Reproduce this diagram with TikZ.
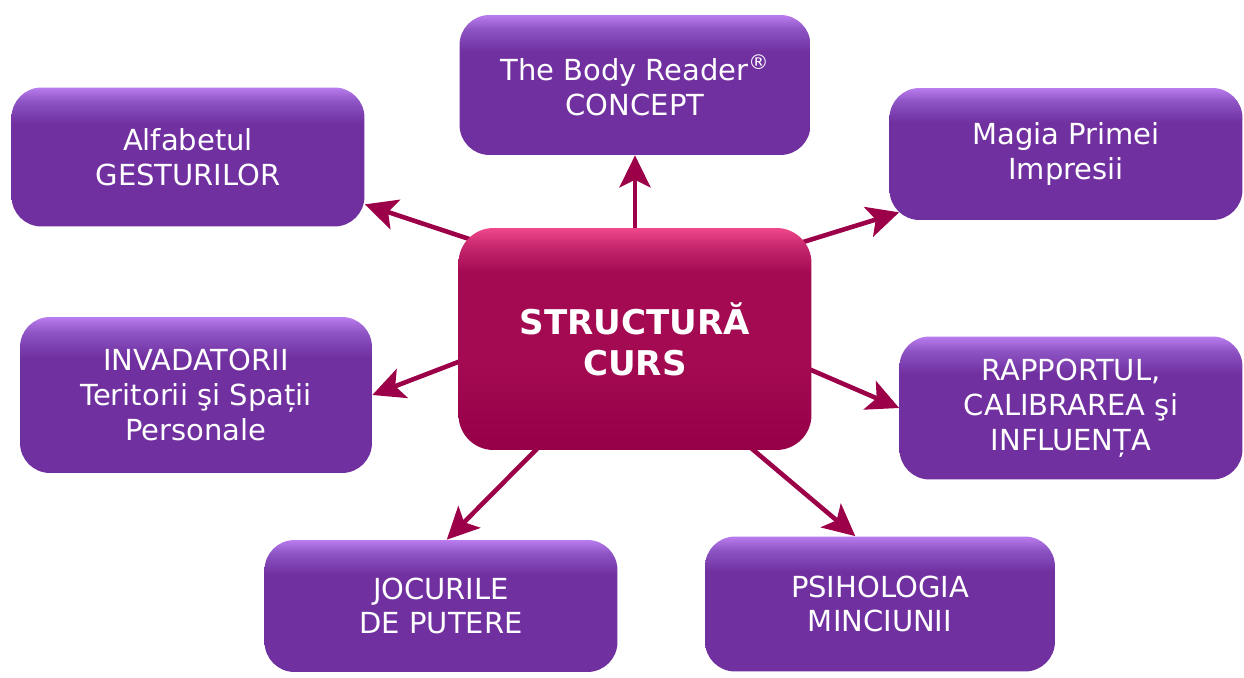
\documentclass[tikz,border=0pt]{standalone}
\usepackage{fontspec}
\setmainfont{DejaVu Sans}
\usetikzlibrary{arrows.meta,backgrounds}

\definecolor{purplebase}{RGB}{112,48,160}
\definecolor{purplemid}{RGB}{142,84,196}
\definecolor{purplelight}{RGB}{186,124,238}
\definecolor{corebase}{RGB}{150,0,72}
\definecolor{coremid}{RGB}{163,10,82}
\definecolor{coreblend}{RGB}{200,40,110}
\definecolor{corelight}{RGB}{240,72,140}
\definecolor{arrowred}{RGB}{155,0,72}

\pgfdeclareverticalshading{purpleglass}{100bp}{color(0bp)=(purplebase); color(25bp)=(purplebase); color(62bp)=(purplebase); color(70bp)=(purplemid); color(75bp)=(purplelight); color(100bp)=(purplelight)}
\pgfdeclareverticalshading{coreglass}{100bp}{color(0bp)=(corebase); color(25bp)=(corebase); color(45bp)=(coremid); color(65bp)=(coremid); color(71bp)=(coreblend); color(75bp)=(corelight); color(100bp)=(corelight)}

\begin{document}
\begin{tikzpicture}[x=0.02cm,y=-0.02cm]
        % Define styles for nodes and arrows
        \tikzstyle{topic} = [rectangle, rounded corners=0.6cm, align=center, text=white, shading=purpleglass, font=\fontsize{16.5}{19.8}\selectfont]
        \tikzstyle{core} = [rectangle, rounded corners=0.7cm, align=center, text=white, shading=coreglass, font=\bfseries\fontsize{19.4}{23.3}\selectfont]
        \tikzstyle{arrow} = [line width=2.6pt, draw=arrowred, -{Stealth[length=0.64cm, width=0.62cm, inset=0.15cm]}]

        \useasboundingbox (0,0) rectangle (1244,678);

        \node (core) [core, minimum width=7.06cm, minimum height=4.44cm] at (635,339) {STRUCTURĂ\\CURS};
        \node (body) [topic, minimum width=7.02cm, minimum height=2.8cm] at (635,85) {The Body Reader\textsuperscript{®}\\CONCEPT};
        \node (gestures) [topic, minimum width=7.06cm, minimum height=2.78cm] at (188,157) {Alfabetul\\GESTURILOR};
        \node (impression) [topic, minimum width=7.06cm, minimum height=2.64cm] at (1066,154) {Magia Primei\\Impresii};
        \node (territory) [topic, minimum width=7.04cm, minimum height=3.12cm] at (196,395) {INVADATORII\\Teritorii şi Spații\\Personale};
        \node (rapport) [topic, minimum width=6.86cm, minimum height=2.86cm] at (1071,408) {RAPPORTUL,\\CALIBRAREA şi\\INFLUENȚA};
        \node (power) [topic, minimum width=7.06cm, minimum height=2.64cm] at (441,606) {JOCURILE\\DE PUTERE};
        \node (lies) [topic, minimum width=7.0cm, minimum height=2.7cm] at (880,604) {PSIHOLOGIA\\MINCIUNII};

        \coordinate (hubup) at ([yshift=0.9cm]core.center);
        \coordinate (hubdown) at ([yshift=-0.22cm]core.center);

        % Arrows
        \begin{scope}[on background layer]
        \draw [arrow] (hubup) -- (body.south);
        \draw [arrow] (hubup) -- (gestures.-15);
        \draw [arrow] (hubup) -- ([xshift=0.2cm, yshift=0.16cm]impression.south west);
        \draw [arrow] (hubup) -- (territory.east);
        \draw [arrow] (hubup) -- (rapport.west);
        \draw [arrow] (hubdown) -- (power.85);
        \draw [arrow] (hubdown) -- (lies.110);
        \end{scope}
    \end{tikzpicture}
\end{document}
